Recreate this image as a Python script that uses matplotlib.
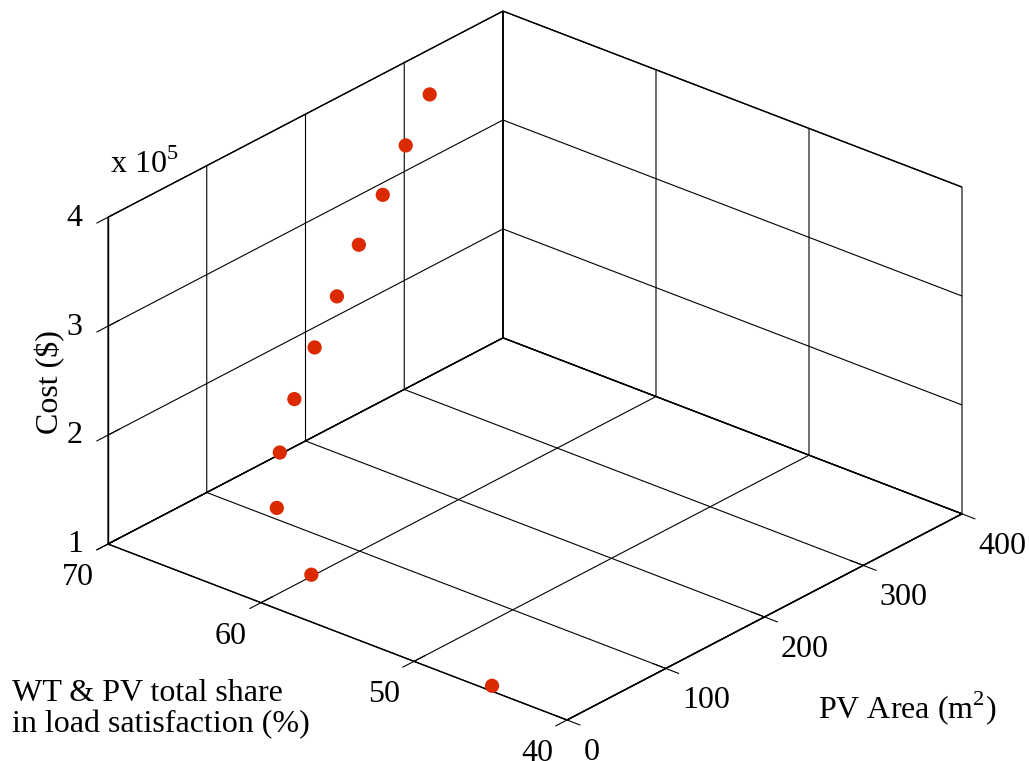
import numpy as np
import matplotlib
matplotlib.use("Agg")
import matplotlib.pyplot as plt
from matplotlib.ticker import FuncFormatter
from mpl_toolkits.mplot3d import proj3d

# values (projection is ambiguous, so best guess)
share = [44.9, 58.0, 62.0, 64.0, 65.5, 66.5, 67.3, 68.0, 68.5, 69.0, 69.5]
pv_area = [0, 20, 47, 81, 119, 155, 190, 223, 255, 286, 318]
cost = [1.05e5, 1.27e5, 1.54e5, 1.78e5, 2.01e5, 2.26e5,
        2.52e5, 2.80e5, 3.08e5, 3.36e5, 3.65e5]

area_ticks = [0, 100, 200, 300, 400]
share_ticks = [40, 50, 60, 70]
cost_ticks = [1e5, 2e5, 3e5, 4e5]

W, H = 1029, 761
plt.rcParams.update({
    "font.family": ["Liberation Serif", "DejaVu Serif"],
    "mathtext.fontset": "custom",
    "mathtext.rm": "Liberation Serif",
    "grid.color": "black",
    "grid.linewidth": 0.8,
})

fig = plt.figure(figsize=(W / 100, H / 100), dpi=100)
ax = fig.add_axes([0, 0, 1, 1], projection="3d", proj_type="ortho")
ax.scatter(pv_area, share, cost, s=105, color="#dc2a00", edgecolors="none",
           depthshade=False)

ax.set_xlim(0, 400)
ax.set_ylim(40, 70)
ax.set_zlim(1e5, 4e5)
ax.set_xticks(area_ticks)
ax.set_yticks(share_ticks)
ax.set_zticks(cost_ticks)
ax.zaxis.set_major_formatter(FuncFormatter(lambda v, p: f"{v / 1e5:g}"))
ax.set_box_aspect((1.0, 0.996, 0.602))
ax.view_init(elev=26.57, azim=-139.4)

for a in (ax.xaxis, ax.yaxis, ax.zaxis):
    a.set_pane_color((1, 1, 1, 1))
    a.pane.set_edgecolor("black")
    a.pane.set_linewidth(1.0)
    a.line.set_color("black")
    a.line.set_linewidth(1.0)
    a._axinfo["grid"].update(color="black", linewidth=0.8)
    a._axinfo["tick"].update(inward_factor=0.35, outward_factor=0.35)
ax.tick_params(axis="x", labelsize=23, pad=4, colors="black")
ax.tick_params(axis="y", labelsize=23, pad=4, colors="black")
ax.tick_params(axis="z", labelsize=23, pad=2, colors="black")

for t in ax.xaxis.get_major_ticks():
    t.label1.set_horizontalalignment("left")
for t in ax.yaxis.get_major_ticks():
    t.label1.set_horizontalalignment("right")
for t in ax.zaxis.get_major_ticks():
    t.label1.set_horizontalalignment("right")
    t.label1.set_verticalalignment("center")

# fit the projected box onto the reference pixel corners
fig.canvas.draw()
pos = ax.get_position()
L0, B0, S0 = pos.x0 * W, pos.y0 * H, pos.width * W
cx = [0, 400, 0, 400]
cy = [70, 40, 40, 70]
cz = [1e5, 1e5, 1e5, 4e5]
px, py, _ = proj3d.proj_transform(cx, cy, cz, ax.get_proj())
disp = ax.transData.transform(np.column_stack([px, py]))
fx = (disp[:, 0] - L0) / S0
fy = (disp[:, 1] - B0) / S0
S = (962 - 108) / (fx[1] - fx[0])
L = 108 - S * fx[0]
B = (H - 720) - S * fy[2]
ax.set_position([L / W, B / H, S / W, S / H])

fig.text(12 / W, 1 - 709 / H, "WT & PV total share\nin load satisfaction (%)",
         fontsize=23, ha="left", va="center", linespacing=1.1)
fig.text(818 / W, 1 - 708 / H, "PV Area (m$^{2}$)", fontsize=23,
         ha="left", va="center")
fig.text(50 / W, 1 - 382 / H, "Cost ($)", fontsize=23, rotation=90,
         ha="center", va="center")
fig.text(110 / W, 1 - 173 / H, "x 10$^{5}$", fontsize=23,
         ha="left", va="baseline")

fig.savefig("out.png", dpi=100)
